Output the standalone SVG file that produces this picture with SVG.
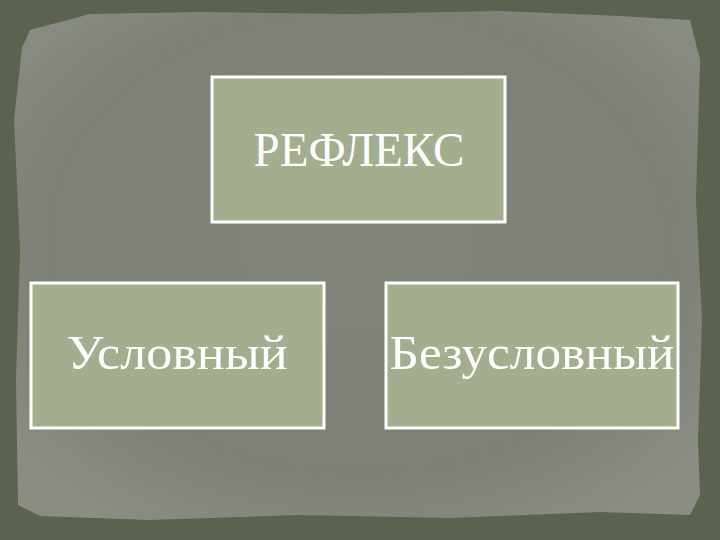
<svg xmlns="http://www.w3.org/2000/svg" width="720" height="540" viewBox="0 0 720 540">
<defs>
<radialGradient id="paper" cx="50%" cy="45%" r="65%">
<stop offset="0" stop-color="#82857c"/>
<stop offset="0.7" stop-color="#7d8077"/>
<stop offset="1" stop-color="#8a8d82"/>
</radialGradient>
<style>
.box{fill:#a3ae8f;stroke:#ffffff;stroke-width:3}
.lbl{font-family:"Liberation Serif","Times New Roman",serif;font-size:48px;fill:#ffffff;text-anchor:middle}
</style>
</defs>
<rect x="0" y="0" width="720" height="540" fill="#5b624f"/>
<path d="M22,48 L30,30 L60,22 L90,14 L200,12 L350,14 L500,11 L620,16 L690,20 L700,60 L696,200 L702,320 L698,440 L700,495 L690,515 L600,512 L450,518 L300,515 L150,520 L40,516 L18,505 L16,380 L20,250 L14,120 Z" fill="url(#paper)"/>
<g id="node-reflex">
<rect class="box" x="212" y="77" width="293" height="145"/>
<text class="lbl" x="359" y="166" textLength="211" lengthAdjust="spacingAndGlyphs">РЕФЛЕКС</text>
</g>
<g id="node-uslovny">
<rect class="box" x="31" y="283" width="293" height="145"/>
<text class="lbl" x="177" y="369" textLength="221" lengthAdjust="spacingAndGlyphs">Условный</text>
</g>
<g id="node-bezuslovny">
<rect class="box" x="386" y="283" width="292" height="145"/>
<text class="lbl" x="532" y="369" textLength="285" lengthAdjust="spacingAndGlyphs">Безусловный</text>
</g>
<g id="connectors"/>
</svg>
